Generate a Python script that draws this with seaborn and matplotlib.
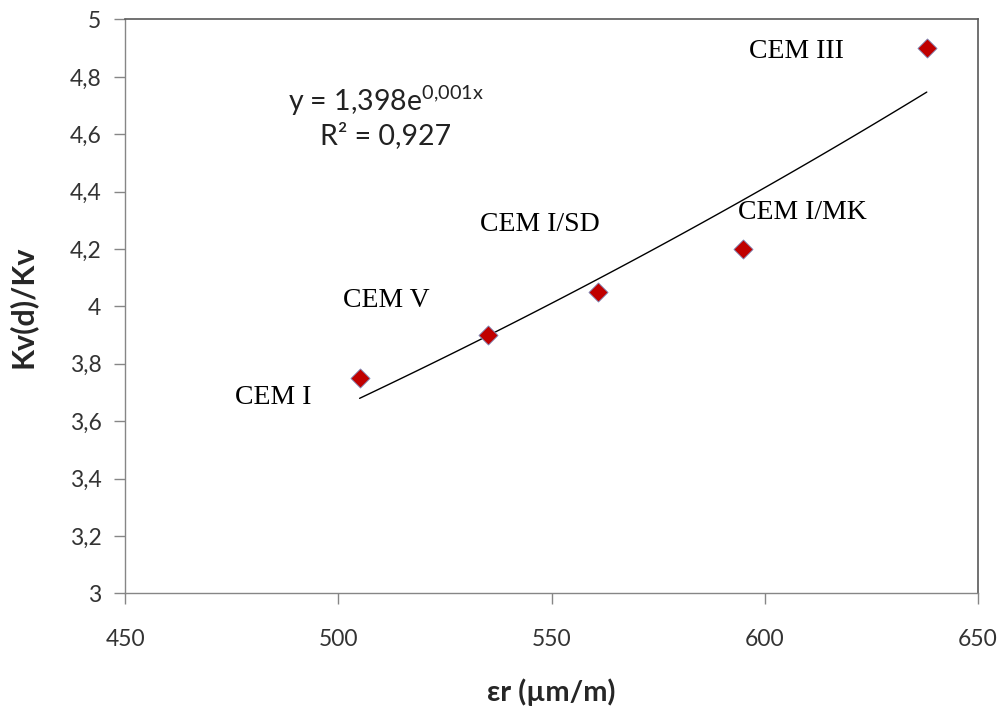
import numpy as np
import pandas as pd
import matplotlib
matplotlib.use('Agg')
import matplotlib.pyplot as plt
import seaborn as sns

# data
cement = ['CEM I', 'CEM V', 'CEM I/SD', 'CEM I/MK', 'CEM III']
strain = [505, 535, 561, 595, 638]          # er (um/m)
kv_ratio = [3.75, 3.90, 4.05, 4.20, 4.90]   # Kv(d)/Kv

# label anchor spots (data coords), left edge / vertical centre
label_x = [475.8, 501.1, 533.2, 593.8, 596.4]
label_y = [3.684, 4.022, 4.284, 4.326, 4.889]

x_ticks = [450, 500, 550, 600, 650]
y_ticks = [3, 3.2, 3.4, 3.6, 3.8, 4, 4.2, 4.4, 4.6, 4.8, 5]
y_tick_labels = ['3', '3,2', '3,4', '3,6', '3,8', '4', '4,2', '4,4', '4,6', '4,8', '5']

df = pd.DataFrame({'cement': cement, 'strain': strain, 'kv': kv_ratio})

# exponential trendline, fitted the way Excel does (on ln y)
b, ln_a = np.polyfit(df['strain'], np.log(df['kv']), 1)
xs = np.linspace(df['strain'].min(), df['strain'].max(), 100)
trend = pd.DataFrame({'strain': xs, 'kv': np.exp(ln_a) * np.exp(b * xs)})

sns.set_style('white')
plt.rcParams['font.family'] = ['Lato', 'DejaVu Sans']
plt.rcParams['mathtext.fontset'] = 'custom'
plt.rcParams['mathtext.rm'] = 'Lato'

fig = plt.figure(figsize=(10.02, 7.06), dpi=100)
ax = fig.add_axes([0.1248, 0.1596, 0.8512, 0.8128])

sns.lineplot(data=trend, x='strain', y='kv', color='black', lw=1, ax=ax)
sns.scatterplot(data=df, x='strain', y='kv', marker='D', s=95, color='#C00000',
                edgecolor='#7F8FBF', linewidth=0.6, zorder=3, ax=ax)

serif = ['Liberation Serif', 'DejaVu Serif']
for name, lx, ly in zip(cement, label_x, label_y):
    ax.text(lx, ly, name, family=serif, fontsize=20, ha='left', va='center', color='black')

ax.text(511.1, 4.719, r'y = 1,398e$^{\mathrm{0{,}001x}}$', fontsize=20.5, ha='center',
        va='center', color='#222222')
ax.text(511.1, 4.597, 'R² = 0,927', fontsize=20.5, ha='center', va='center', color='#222222')

ax.set_xlim(450, 650)
ax.set_ylim(3, 5)
ax.set_xticks(x_ticks)
ax.set_yticks(y_ticks)
ax.set_yticklabels(y_tick_labels)
ax.tick_params(axis='both', direction='out', length=8, width=1, color='#868686',
               labelsize=16.5, labelcolor='#333333', left=True, bottom=True)
ax.tick_params(axis='x', pad=18)
ax.tick_params(axis='y', pad=9)

for side in ['left', 'bottom']:
    ax.spines[side].set_color('#868686')
    ax.spines[side].set_linewidth(1)
for side in ['top', 'right']:
    ax.spines[side].set_color('#595959')
    ax.spines[side].set_linewidth(1.2)

ax.set_xlabel('εr (µm/m)', fontsize=21, fontweight='bold', labelpad=20)
ax.set_ylabel('Kv(d)/Kv', fontsize=22, fontweight='bold', labelpad=24)

fig.savefig('out.png', dpi=100)
